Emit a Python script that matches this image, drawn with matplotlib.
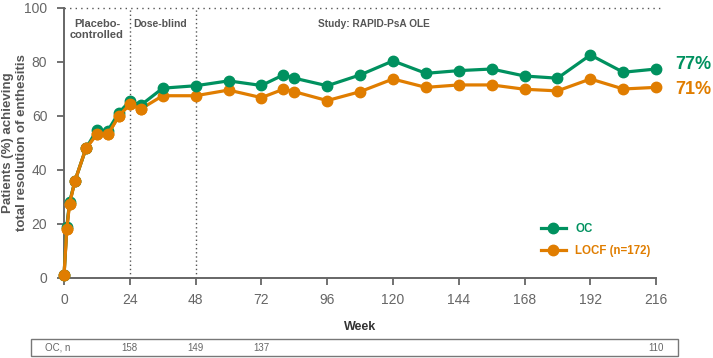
import matplotlib
matplotlib.use('Agg')
import matplotlib.pyplot as plt
import matplotlib.transforms as mtransforms
from matplotlib.patches import Rectangle

plt.rcParams['font.family'] = ['Liberation Sans', 'DejaVu Sans']

# data
weeks = [0, 1, 2, 4, 8, 12, 16, 20, 24, 28, 36, 48, 60, 72, 80, 84, 96, 108,
         120, 132, 144, 156, 168, 180, 192, 204, 216]
oc = [1, 19, 28, 36, 48, 54.8, 54.6, 61.2, 65.5, 64, 70.3, 71.2, 73, 71.3, 75.2,
      74, 71.2, 75.2, 80.4, 75.8, 76.8, 77.4, 74.8, 74, 82.6, 76.2, 77.4]
locf = [1, 18, 27.5, 36, 48, 53.3, 53.2, 60, 64.4, 62.6, 67.5, 67.5, 69.6, 66.8,
        69.9, 69, 65.7, 69, 73.7, 70.6, 71.5, 71.5, 69.9, 69.3, 73.7, 70, 70.6]
xticks = [0, 24, 48, 72, 96, 120, 144, 168, 192, 216]
yticks = [0, 20, 40, 60, 80, 100]
n_weeks = [24, 48, 72, 216]
n_values = [158, 149, 137, 110]

green = '#00915F'
orange = '#E07D00'
grey = '#555555'

fig = plt.figure(figsize=(7.13, 3.58), dpi=100)
ax = fig.add_axes([0.0898, 0.2235, 0.8305, 0.7542])

ax.plot(weeks, locf, color=orange, lw=2.3, marker='o', ms=7.5, clip_on=False,
        zorder=3, label='LOCF (n=172)')
ax.plot(weeks, oc, color=green, lw=2.3, marker='o', ms=7.5, clip_on=False,
        zorder=4, label='OC')
# orange sits on top where the two lines overlap early on
ax.plot(weeks[:10], locf[:10], color=orange, lw=2.3, marker='o', ms=7.5,
        clip_on=False, zorder=5)

ax.set_xlim(0, 216)
ax.set_ylim(0, 100)
ax.set_xticks(xticks)
ax.set_yticks(yticks)
ax.tick_params(colors='#666666', labelsize=10, width=1.3, length=5, pad=6)
ax.tick_params(axis='y', pad=7)
for s in ['top', 'right']:
    ax.spines[s].set_visible(False)
for s in ['left', 'bottom']:
    ax.spines[s].set_color('#666666')
    ax.spines[s].set_linewidth(1.4)

ax.axhline(100, color=grey, ls=(0, (1, 3)), lw=1, xmax=1.007, clip_on=False)
ax.axvline(24, color=grey, ls=(0, (1, 2)), lw=1)
ax.axvline(48, color=grey, ls=(0, (1, 2)), lw=1)

ax.text(12, 96, 'Placebo-\ncontrolled', ha='center', va='top', fontsize=8,
        fontweight='bold', color=grey, linespacing=1.1)
ax.text(35, 96, 'Dose-blind', ha='center', va='top', fontsize=7.5,
        fontweight='bold', color=grey)
ax.text(113, 96, 'Study: RAPID-PsA OLE', ha='center', va='top', fontsize=7.3,
        fontweight='bold', color=grey)

ax.text(223, 78.9, '77%', ha='left', va='center', fontsize=13,
        fontweight='bold', color=green)
ax.text(223, 69.8, '71%', ha='left', va='center', fontsize=13,
        fontweight='bold', color=orange)

ax.set_xlabel('Week', fontsize=9, fontweight='bold', color='#333333', labelpad=10)
ax.set_ylabel('Patients (%) achieving\ntotal resolution of enthesitis',
              fontsize=9.5, fontweight='bold', color=grey)
ax.yaxis.set_label_coords(-0.061, 0.5)

handles, labels = ax.get_legend_handles_labels()
leg = ax.legend(handles[::-1], labels[::-1], loc='lower right',
                bbox_to_anchor=(1.008, 0.04), frameon=False, fontsize=8.3,
                handlelength=2.2, labelspacing=0.85)
for t, c in zip(leg.get_texts(), [green, orange]):
    t.set_color(c)
    t.set_fontweight('bold')

# n table under the chart
fig.add_artist(Rectangle((0.043, 0.005), 0.908, 0.047, transform=fig.transFigure,
                         fill=False, edgecolor='#777777', lw=1))
fig.text(0.063, 0.029, 'OC, n', fontsize=7, color='#666666', va='center')
trans = mtransforms.blended_transform_factory(ax.transData, fig.transFigure)
for w, n in zip(n_weeks, n_values):
    ax.text(w, 0.029, str(n), transform=trans, ha='center', va='center',
            fontsize=7, color='#666666', clip_on=False)

fig.savefig('out.png', dpi=100)
